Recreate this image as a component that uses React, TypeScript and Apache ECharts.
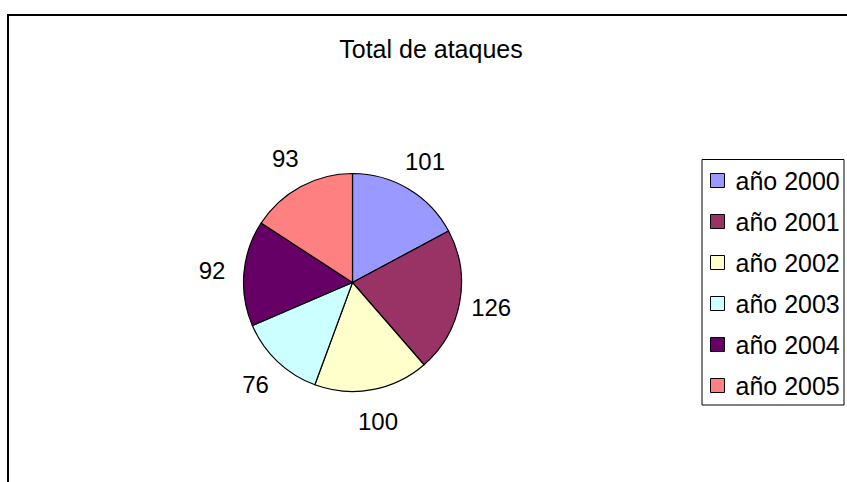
import React, { useEffect, useRef } from "react";
import * as echarts from "echarts";

const titleText = "Total de ataques";
const categories = ["año 2000", "año 2001", "año 2002", "año 2003", "año 2004", "año 2005"];
const values = [101, 126, 100, 76, 92, 93];
const colors = ["#9999FF", "#993366", "#FFFFCC", "#CCFFFF", "#660066", "#FF8080"];

const FONT = "'Liberation Sans', Arial, sans-serif";

export default function App() {
  const ref = useRef<HTMLDivElement>(null);
  useEffect(() => {
    if (!ref.current) return;
    const chart = echarts.init(ref.current, undefined, { renderer: "svg" });
    const data = categories.map((name, i) => ({
      name,
      value: values[i],
      itemStyle: { color: colors[i] },
    }));
    chart.setOption({
      animation: false,
      backgroundColor: "#ffffff",
      title: {
        text: titleText,
        left: 426,
        top: 31,
        textAlign: "center",
        textStyle: { fontFamily: FONT, fontSize: 25, fontWeight: "normal", color: "#000" },
      },
      graphic: [
        {
          type: "rect",
          shape: { x: 8, y: 15, width: 1000, height: 1000 },
          style: { fill: "none", stroke: "#000", lineWidth: 2 },
          silent: true,
          z: 0,
        },
        {
          type: "rect",
          shape: { x: 702, y: 159.5, width: 142, height: 245.5 },
          style: { fill: "#fff", stroke: "#000", lineWidth: 1 },
          silent: true,
          z: 0,
        },
      ],
      legend: {
        orient: "vertical",
        left: 710,
        top: 168,
        padding: 0,
        itemWidth: 14,
        itemHeight: 14,
        itemGap: 16,
        icon: "rect",
        data: categories,
        itemStyle: { borderColor: "#000", borderWidth: 1 },
        textStyle: {
          fontFamily: FONT,
          fontSize: 25,
          lineHeight: 25,
          color: "#000",
          padding: [0, 0, 0, 6],
        },
        selectedMode: false,
        z: 5,
      },
      series: [
        {
          type: "pie",
          center: [352.5, 282.5],
          radius: [0, 109],
          startAngle: 90,
          clockwise: true,
          data,
          label: { show: false },
          labelLine: { show: false },
          itemStyle: { borderColor: "#000", borderWidth: 1.2 },
          emphasis: { disabled: true },
        },
        {
          type: "pie",
          center: [352.5, 282.5],
          radius: [127, 149],
          startAngle: 90,
          clockwise: true,
          silent: true,
          legendHoverLink: false,
          data: categories.map((name, i) => ({ name, value: values[i] })),
          itemStyle: { color: "transparent", borderWidth: 0 },
          label: {
            show: true,
            position: "inside",
            formatter: "{c}",
            fontFamily: FONT,
            fontSize: 24,
            color: "#000",
          },
          labelLine: { show: false },
          emphasis: { disabled: true },
        },
      ],
    });
    return () => chart.dispose();
  }, []);
  return (
    <div
      ref={ref}
      style={{ position: "absolute", left: 0, top: 0, width: 847, height: 482 }}
    />
  );
}
